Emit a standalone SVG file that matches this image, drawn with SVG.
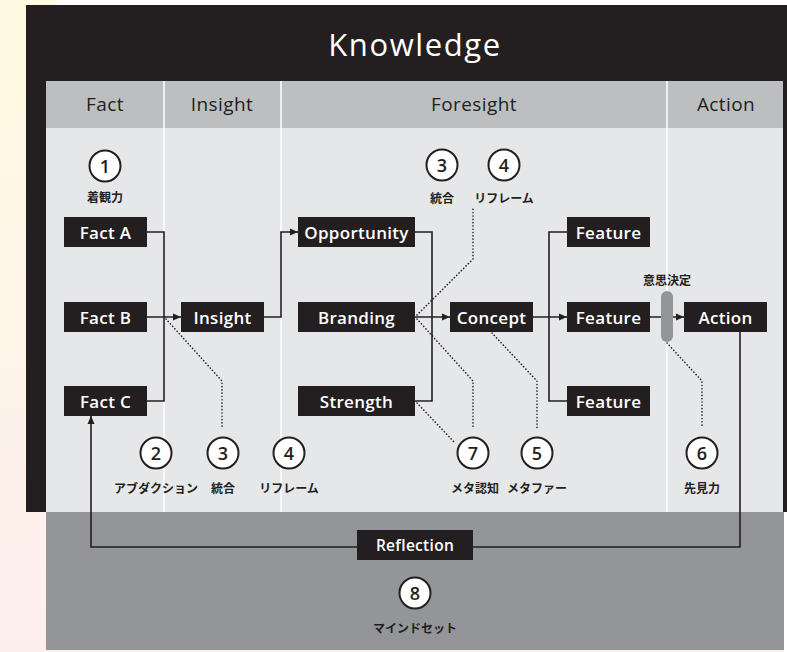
<svg xmlns="http://www.w3.org/2000/svg" width="787" height="652" viewBox="0 0 787 652">
<defs>
<linearGradient id="bg" x1="0" y1="0" x2="0" y2="1">
<stop offset="0" stop-color="#fffbe2"/>
<stop offset="1" stop-color="#fdeeee"/>
</linearGradient>
<marker id="arr" markerUnits="userSpaceOnUse" markerWidth="8" markerHeight="8" viewBox="0 0 8 8" refX="8" refY="4" orient="auto">
<path d="M0,0.5 L8,4 L0,7.5 Z" fill="#231f20"/>
</marker>
<style>
.node rect{fill:#231f20}
.node text{fill:#fff;font-family:"Open Sans","Noto Sans",sans-serif;font-size:17px;font-weight:600;text-anchor:middle;dominant-baseline:central;letter-spacing:0.3px}
.hdr{fill:#231f20;font-family:"Open Sans","Noto Sans",sans-serif;font-size:19px;font-weight:500;text-anchor:middle;dominant-baseline:central;letter-spacing:0.4px}
.ln{fill:none;stroke:#231f20;stroke-width:1.6}
.dot{fill:none;stroke:#231f20;stroke-width:1.6;stroke-dasharray:0.1 3.2;stroke-linecap:round}
.num circle{fill:#fff;stroke:#231f20;stroke-width:2}
.num text.n{fill:#231f20;font-family:"Open Sans","Noto Sans",sans-serif;font-size:18px;font-weight:600;text-anchor:middle;dominant-baseline:central}
text.jp{fill:#231f20;font-family:"Noto Sans CJK JP","Noto Sans",sans-serif;font-size:12px;font-weight:700;text-anchor:middle;dominant-baseline:central}
</style>
</defs>

<rect x="0" y="0" width="787" height="652" fill="url(#bg)"/>
<rect x="57" y="0" width="730" height="5" fill="#ffffff"/>
<rect x="784" y="512" width="3" height="140" fill="#ffffff"/>

<rect x="26" y="5" width="761" height="507" fill="#231f20"/>
<text x="415" y="44" fill="#ffffff" font-family="Open Sans, Noto Sans, sans-serif" font-size="31" font-weight="500" text-anchor="middle" dominant-baseline="central" letter-spacing="1.6">Knowledge</text>

<rect x="46" y="81" width="737" height="47" fill="#bcbec0"/>
<rect x="46" y="128" width="737" height="384" fill="#e6e7e8"/>
<g stroke="#ffffff" stroke-width="1.5">
<line x1="164" y1="81" x2="164" y2="512"/>
<line x1="281" y1="81" x2="281" y2="512"/>
<line x1="667" y1="81" x2="667" y2="512"/>
</g>
<text class="hdr" x="105" y="104">Fact</text>
<text class="hdr" x="222" y="104">Insight</text>
<text class="hdr" x="474" y="104">Foresight</text>
<text class="hdr" x="726" y="104">Action</text>

<rect x="46" y="512" width="738" height="138" fill="#939598"/>

<g id="connectors">
<path class="ln" d="M147,232 H164 V401 H147"/>
<path class="ln" d="M147,317 H181" marker-end="url(#arr)"/>
<path class="ln" d="M264,317 H281 V232 H298" marker-end="url(#arr)"/>
<path class="ln" d="M415,232 H432 V401 H415"/>
<path class="ln" d="M415,317 H450" marker-end="url(#arr)"/>
<path class="ln" d="M533,317 H567" marker-end="url(#arr)"/>
<path class="ln" d="M567,232 H549 V401 H567"/>
<path class="ln" d="M650,317 H684" marker-end="url(#arr)"/>
<path class="ln" d="M740,332 V547 H91 V416" marker-end="url(#arr)"/>
<path class="dot" d="M166,319 L222,381 V428"/>
<path class="dot" d="M417,319 L473,381 V428"/>
<path class="dot" d="M417,403 L455,443"/>
<path class="dot" d="M492,333 L537,381 V428"/>
<path class="dot" d="M667,343 L702,381 V428"/>
<path class="dot" d="M417,315 L473,259 V208"/>
</g>

<g id="decision">
<rect x="661" y="291" width="12" height="51" rx="6" fill="#939598"/>
<text class="jp" x="667" y="279">意思決定</text>
</g>

<g id="factA" class="node"><rect x="64" y="217" width="83" height="30"/><text x="105.5" y="232">Fact A</text></g>
<g id="factB" class="node"><rect x="64" y="302" width="83" height="30"/><text x="105.5" y="317">Fact B</text></g>
<g id="factC" class="node"><rect x="64" y="386" width="83" height="30"/><text x="105.5" y="401">Fact C</text></g>
<g id="insight" class="node"><rect x="181" y="302" width="83" height="30"/><text x="222.5" y="317">Insight</text></g>
<g id="opportunity" class="node"><rect x="298" y="217" width="117" height="30"/><text x="356.5" y="232">Opportunity</text></g>
<g id="branding" class="node"><rect x="298" y="302" width="117" height="30"/><text x="356.5" y="317">Branding</text></g>
<g id="strength" class="node"><rect x="298" y="386" width="117" height="30"/><text x="356.5" y="401">Strength</text></g>
<g id="concept" class="node"><rect x="450" y="302" width="83" height="30"/><text x="491.5" y="317">Concept</text></g>
<g id="feature1" class="node"><rect x="567" y="217" width="83" height="30"/><text x="608.5" y="232">Feature</text></g>
<g id="feature2" class="node"><rect x="567" y="302" width="83" height="30"/><text x="608.5" y="317">Feature</text></g>
<g id="feature3" class="node"><rect x="567" y="386" width="83" height="30"/><text x="608.5" y="401">Feature</text></g>
<g id="action" class="node"><rect x="684" y="302" width="83" height="30"/><text x="725.5" y="317">Action</text></g>
<g id="reflection" class="node"><rect x="357" y="530" width="116" height="30"/><text x="415" y="545" style="font-size:15.5px">Reflection</text></g>

<g id="n1" class="num"><circle cx="105" cy="166" r="15.5"/><text class="n" x="105" y="166">1</text><text class="jp" x="105" y="196">着観力</text></g>
<g id="n3top" class="num"><circle cx="442" cy="165" r="15.5"/><text class="n" x="442" y="165">3</text><text class="jp" x="442" y="197">統合</text></g>
<g id="n4top" class="num"><circle cx="504" cy="165" r="15.5"/><text class="n" x="504" y="165">4</text><text class="jp" x="504" y="197">リフレーム</text></g>
<g id="n2" class="num"><circle cx="156" cy="453" r="15.5"/><text class="n" x="156" y="453">2</text><text class="jp" x="156" y="487">アブダクション</text></g>
<g id="n3" class="num"><circle cx="223" cy="453" r="15.5"/><text class="n" x="223" y="453">3</text><text class="jp" x="223" y="487">統合</text></g>
<g id="n4" class="num"><circle cx="289" cy="453" r="15.5"/><text class="n" x="289" y="453">4</text><text class="jp" x="289" y="487">リフレーム</text></g>
<g id="n7" class="num"><circle cx="473" cy="453" r="15.5"/><text class="n" x="473" y="453">7</text><text class="jp" x="475" y="487">メタ認知</text></g>
<g id="n5" class="num"><circle cx="537" cy="453" r="15.5"/><text class="n" x="537" y="453">5</text><text class="jp" x="537" y="487">メタファー</text></g>
<g id="n6" class="num"><circle cx="702" cy="453" r="15.5"/><text class="n" x="702" y="453">6</text><text class="jp" x="702" y="487">先見力</text></g>
<g id="n8" class="num"><circle cx="415" cy="593" r="15.5"/><text class="n" x="415" y="593">8</text><text class="jp" x="415" y="627">マインドセット</text></g>
</svg>
